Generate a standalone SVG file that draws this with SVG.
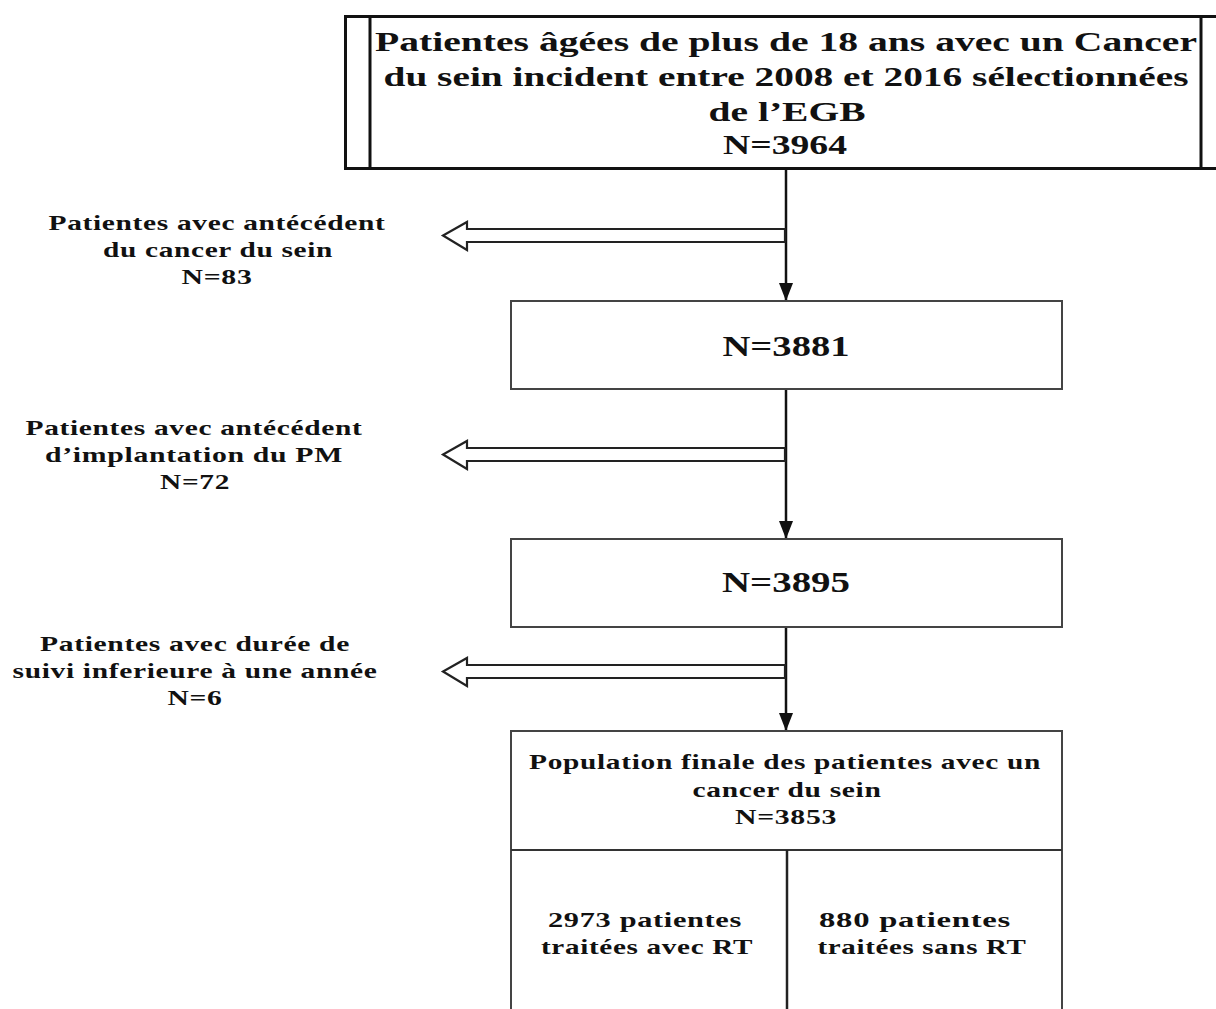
<svg xmlns="http://www.w3.org/2000/svg" width="1216" height="1009" viewBox="0 0 1216 1009">
<style>
  text { font-family: "Liberation Serif", "Times New Roman", serif; font-weight: bold; fill: #111; text-anchor: middle; }
  .big { font-size: 28px; }
  .mid { font-size: 29px; }
  .sm { font-size: 22px; letter-spacing: 0.5px; }
  .box { fill: #fff; stroke: #444; stroke-width: 2; }
  .line { stroke: #111; stroke-width: 2.5; fill: none; }
  .hollow { fill: #fff; stroke: #222; stroke-width: 2.2; stroke-linejoin: miter; }
</style>
<defs>
  <marker id="ah" markerWidth="18" markerHeight="14" refX="18" refY="7" orient="auto" markerUnits="userSpaceOnUse">
    <path d="M0,0 L18,7 L0,14 Z" fill="#111"/>
  </marker>
</defs>
<rect width="1216" height="1009" fill="#fff"/>

<g id="connectors">
  <line class="line" x1="786" y1="170" x2="786" y2="301" marker-end="url(#ah)"/>
  <line class="line" x1="786" y1="389" x2="786" y2="539" marker-end="url(#ah)"/>
  <line class="line" x1="786" y1="627" x2="786" y2="731" marker-end="url(#ah)"/>
  <polygon class="hollow" points="785,229 467,229 467,222 443,235.5 467,250 467,242 785,242"/>
  <polygon class="hollow" points="785,448 467,448 467,441 443,454.5 467,469 467,461 785,461"/>
  <polygon class="hollow" points="785,665 467,665 467,658 443,671.5 467,686 467,678 785,678"/>
</g>

<g id="node-top">
  <rect x="345.5" y="16.5" width="890" height="152" fill="#fff" stroke="#111" stroke-width="3"/>
  <line x1="370" y1="16" x2="370" y2="169" stroke="#111" stroke-width="3"/>
  <line x1="1201" y1="16" x2="1201" y2="169" stroke="#111" stroke-width="3"/>
  <text class="big" x="786" y="51" textLength="822" lengthAdjust="spacingAndGlyphs">Patientes âgées de plus de 18 ans avec un Cancer</text>
  <text class="big" x="786" y="86" textLength="805" lengthAdjust="spacingAndGlyphs">du sein incident entre 2008 et 2016 sélectionnées</text>
  <text class="big" x="787" y="121" textLength="157" lengthAdjust="spacingAndGlyphs">de l’EGB</text>
  <text class="big" x="785" y="154" textLength="124" lengthAdjust="spacingAndGlyphs">N=3964</text>
</g>

<g id="label-excl1">
  <text class="sm" x="217" y="230" textLength="337" lengthAdjust="spacingAndGlyphs">Patientes avec antécédent</text>
  <text class="sm" x="218" y="257" textLength="230" lengthAdjust="spacingAndGlyphs">du cancer du sein</text>
  <text class="sm" x="217" y="284" textLength="71" lengthAdjust="spacingAndGlyphs">N=83</text>
</g>

<g id="node-3881">
  <rect class="box" x="511" y="301" width="551" height="88"/>
  <text class="mid" x="786" y="356" textLength="127" lengthAdjust="spacingAndGlyphs">N=3881</text>
</g>

<g id="label-excl2">
  <text class="sm" x="194" y="435" textLength="337" lengthAdjust="spacingAndGlyphs">Patientes avec antécédent</text>
  <text class="sm" x="194" y="462" textLength="298" lengthAdjust="spacingAndGlyphs">d’implantation du PM</text>
  <text class="sm" x="195" y="489" textLength="70" lengthAdjust="spacingAndGlyphs">N=72</text>
</g>

<g id="node-3895">
  <rect class="box" x="511" y="539" width="551" height="88"/>
  <text class="mid" x="786" y="592" textLength="128" lengthAdjust="spacingAndGlyphs">N=3895</text>
</g>

<g id="label-excl3">
  <text class="sm" x="195" y="651" textLength="310" lengthAdjust="spacingAndGlyphs">Patientes avec durée de</text>
  <text class="sm" x="195" y="678" textLength="365" lengthAdjust="spacingAndGlyphs">suivi inferieure à une année</text>
  <text class="sm" x="195" y="705" textLength="55" lengthAdjust="spacingAndGlyphs">N=6</text>
</g>

<g id="node-final">
  <rect class="box" x="511" y="731" width="551" height="300"/>
  <line x1="511" y1="850" x2="1062" y2="850" stroke="#333" stroke-width="2"/>
  <line x1="787" y1="850" x2="787" y2="1009" stroke="#222" stroke-width="2.5"/>
  <text class="sm" x="785" y="769" textLength="512" lengthAdjust="spacingAndGlyphs">Population finale des patientes avec un</text>
  <text class="sm" x="787" y="797" textLength="189" lengthAdjust="spacingAndGlyphs">cancer du sein</text>
  <text class="sm" x="786" y="824" textLength="102" lengthAdjust="spacingAndGlyphs">N=3853</text>
</g>

<g id="node-rt">
  <text class="sm" x="645" y="927" textLength="194" lengthAdjust="spacingAndGlyphs">2973 patientes</text>
  <text class="sm" x="647" y="954" textLength="212" lengthAdjust="spacingAndGlyphs">traitées avec RT</text>
</g>

<g id="node-no-rt">
  <text class="sm" x="915" y="927" textLength="192" lengthAdjust="spacingAndGlyphs">880 patientes</text>
  <text class="sm" x="922" y="954" textLength="209" lengthAdjust="spacingAndGlyphs">traitées sans RT</text>
</g>
</svg>
